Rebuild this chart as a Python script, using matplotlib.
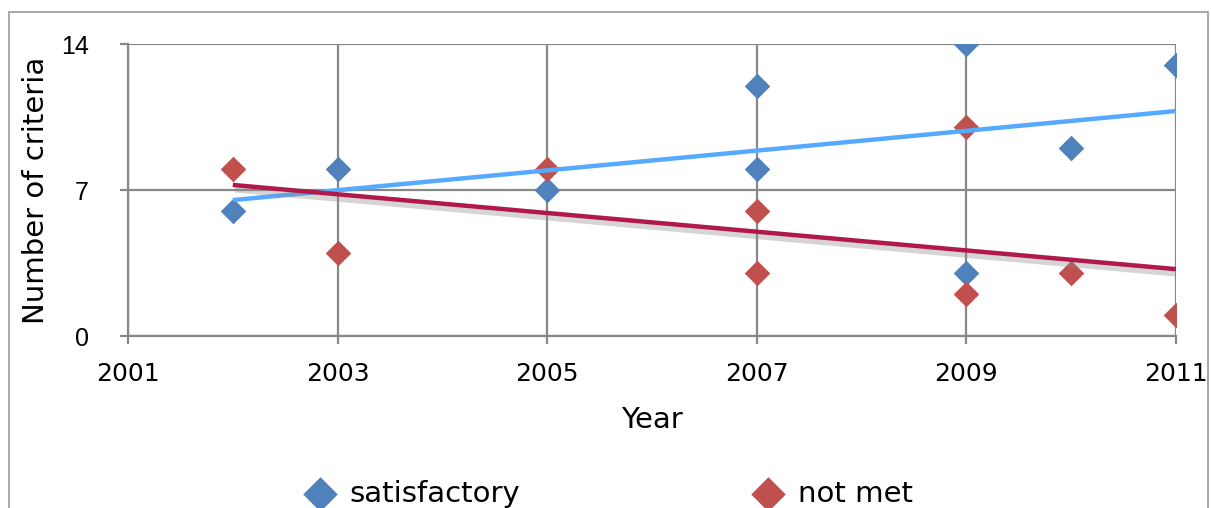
import numpy as np
import matplotlib.pyplot as plt
import matplotlib.patheffects as pe
from matplotlib.patches import Rectangle

# criteria counts per assessment year
sat_years = [2002, 2003, 2005, 2007, 2007, 2009, 2009, 2010, 2011]
sat_counts = [6, 8, 7, 12, 8, 14, 3, 9, 13]
notmet_years = [2002, 2003, 2005, 2007, 2007, 2009, 2009, 2010, 2011]
notmet_counts = [8, 4, 8, 6, 3, 10, 2, 3, 1]

x_ticks = [2001, 2003, 2005, 2007, 2009, 2011]
y_ticks = [0, 7, 14]

blue = "#4F81BD"
red = "#C0504D"
grid_col = "#888888"

fig = plt.figure(figsize=(12.11, 5.08), dpi=100)
ax = fig.add_axes([128 / 1211, 1 - 336 / 508, (1176 - 128) / 1211, (336 - 44) / 508])

# chart area border
fig.patches.append(Rectangle((9 / 1211, -0.1), (1208 - 9) / 1211, 1.1 - 12 / 508,
                             transform=fig.transFigure, fill=False,
                             edgecolor="#999999", lw=1.2))

ax.scatter(sat_years, sat_counts, marker="D", s=170, color=blue, zorder=3,
           label="satisfactory", linewidths=0)
ax.scatter(notmet_years, notmet_counts, marker="D", s=170, color=red, zorder=3,
           label="not met", linewidths=0)

# linear trend lines
xs = np.array([min(sat_years), max(sat_years)])
k, b = np.polyfit(sat_years, sat_counts, 1)
ax.plot(xs, k * xs + b, color="#55AAFF", lw=3.2, zorder=4, solid_capstyle="butt")
xs = np.array([min(notmet_years), max(notmet_years)])
k, b = np.polyfit(notmet_years, notmet_counts, 1)
ax.plot(xs, k * xs + b, color="#B0194A", lw=3.2, zorder=4, solid_capstyle="butt",
        path_effects=[pe.SimpleLineShadow(offset=(1.5, -3), shadow_color="#888888",
                                          alpha=0.35, linewidth=5),
                      pe.Normal()])

ax.set_xlim(2001, 2011)
ax.set_ylim(0, 14)
ax.set_xticks(x_ticks)
ax.set_yticks(y_ticks)
ax.grid(True, color=grid_col, lw=1.6)
ax.set_axisbelow(True)
for s in ["top", "right"]:
    ax.spines[s].set_visible(False)
for s in ["left", "bottom"]:
    ax.spines[s].set_color(grid_col)
    ax.spines[s].set_linewidth(1.6)
ax.tick_params(axis="both", direction="out", length=6, width=1.6, color=grid_col)
ax.tick_params(axis="x", labelsize=18, pad=13)
ax.tick_params(axis="y", labelsize=18, pad=22)
for t in ax.get_yticklabels():
    t.set_fontfamily("Liberation Sans")

ax.set_xlabel("Year", fontsize=21, labelpad=14)
ax.set_ylabel("Number of criteria", fontsize=21, labelpad=8)

fig.legend(loc="center", bbox_to_anchor=(0.503, 1 - 494 / 508), ncol=2, frameon=False,
           fontsize=21, columnspacing=8.0, handlelength=1.0, handletextpad=0.52,
           scatterpoints=1, markerscale=1.35)

fig.savefig("out.png", dpi=100)
